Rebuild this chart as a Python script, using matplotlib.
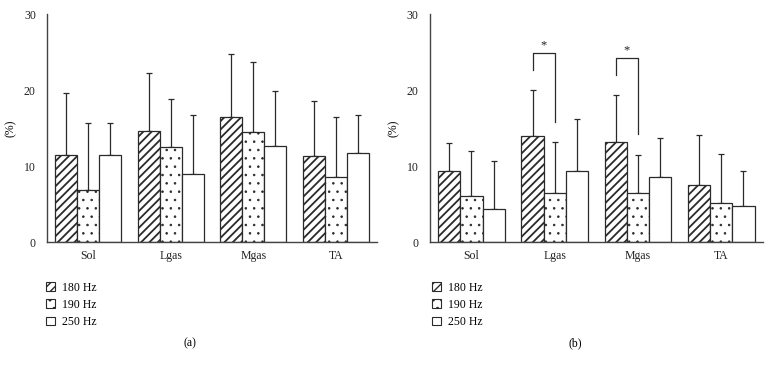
import matplotlib
matplotlib.use("Agg")
import matplotlib.pyplot as plt
from matplotlib.patches import Patch
import numpy as np

plt.rcParams['font.family'] = ['Liberation Serif', 'DejaVu Serif']

categories = ["Sol", "Lgas", "Mgas", "TA"]
series = ["180 Hz", "190 Hz", "250 Hz"]

a_mean = {"180 Hz": [11.5, 14.6, 16.5, 11.3],
          "190 Hz": [6.9, 12.5, 14.5, 8.6],
          "250 Hz": [11.5, 8.9, 12.6, 11.7]}
a_err = {"180 Hz": [8.1, 7.7, 8.2, 7.2],
         "190 Hz": [8.7, 6.3, 9.2, 7.8],
         "250 Hz": [4.2, 7.8, 7.3, 5.0]}

b_mean = {"180 Hz": [9.4, 13.9, 13.1, 7.5],
          "190 Hz": [6.0, 6.5, 6.4, 5.2],
          "250 Hz": [4.3, 9.3, 8.6, 4.7]}
b_err = {"180 Hz": [3.6, 6.1, 6.2, 6.6],
         "190 Hz": [6.0, 6.6, 5.1, 6.4],
         "250 Hz": [6.3, 6.9, 5.1, 4.6]}

# significance brackets in panel b: (category, top, left_end, right_end)
sig_cats = ["Lgas", "Mgas"]
sig_top = [24.9, 24.2]
sig_left = [22.7, 22.0]
sig_right = [15.8, 14.2]

hatches = {"180 Hz": "////", "190 Hz": "..", "250 Hz": ""}
hatch_lw = {"180 Hz": 1.3, "190 Hz": 0.6, "250 Hz": 0.8}
yticks = [0, 10, 20, 30]
panel_labels = ["(a)", "(b)"]

fig = plt.figure(figsize=(7.69, 3.69), dpi=100)
ax_a = fig.add_axes([0.0611, 0.344, 0.429, 0.618])
ax_b = fig.add_axes([0.559, 0.344, 0.433, 0.618])

width = 0.267
x = np.arange(len(categories))
edge = "#2a2a2a"


def draw(ax, means, errs):
    for i, s in enumerate(series):
        pos = x + (i - 1) * width
        with plt.rc_context({'hatch.linewidth': hatch_lw[s]}):
            ax.bar(pos, means[s], width, color="white", edgecolor=edge,
                   hatch=hatches[s], linewidth=0.9, zorder=2)
        ax.errorbar(pos, means[s], yerr=[np.zeros(len(errs[s])), errs[s]],
                    fmt="none", ecolor=edge, elinewidth=0.9, capsize=2.2,
                    capthick=0.9, zorder=1)
    ax.set_xlim(-0.5, 3.5)
    ax.set_ylim(0, 30)
    ax.set_yticks(yticks)
    ax.set_xticks(x)
    ax.set_xticklabels(categories, fontsize=8.5)
    ax.tick_params(axis="both", length=0, labelsize=8.5, colors="#222222")
    ax.tick_params(axis="x", pad=6)
    ax.tick_params(axis="y", pad=8)
    for sp in ["top", "right"]:
        ax.spines[sp].set_visible(False)
    for sp in ["left", "bottom"]:
        ax.spines[sp].set_color("#444444")
        ax.spines[sp].set_linewidth(1.0)
    ax.set_ylabel("(%)", fontsize=8.5, labelpad=5)


draw(ax_a, a_mean, a_err)
draw(ax_b, b_mean, b_err)

for c, t, l, r in zip(sig_cats, sig_top, sig_left, sig_right):
    ci = categories.index(c)
    xl = ci - width
    xr = ci
    ax_b.plot([xl, xl, xr, xr], [l, t, t, r], color=edge, lw=0.9, zorder=3)
    ax_b.text((xl + xr) / 2, t + 0.2, "*", ha="center", va="bottom",
              fontsize=9, color="#222222")

for xpos in [0.060, 0.562]:
    handles = []
    for s in series:
        with plt.rc_context({'hatch.linewidth': hatch_lw[s]}):
            handles.append(Patch(facecolor="white", edgecolor=edge,
                                 hatch=hatches[s], linewidth=0.8))
    fig.legend(handles, series, loc="upper left", bbox_to_anchor=(xpos, 0.237),
               frameon=False, fontsize=8.5, handlelength=0.75, handleheight=0.75,
               handletextpad=0.6, labelspacing=0.45, borderpad=0, borderaxespad=0)

fig.text(0.247, 0.070, panel_labels[0], ha="center", va="center", fontsize=8.5)
fig.text(0.748, 0.070, panel_labels[1], ha="center", va="center", fontsize=8.5)

fig.savefig("out.png", dpi=100)
